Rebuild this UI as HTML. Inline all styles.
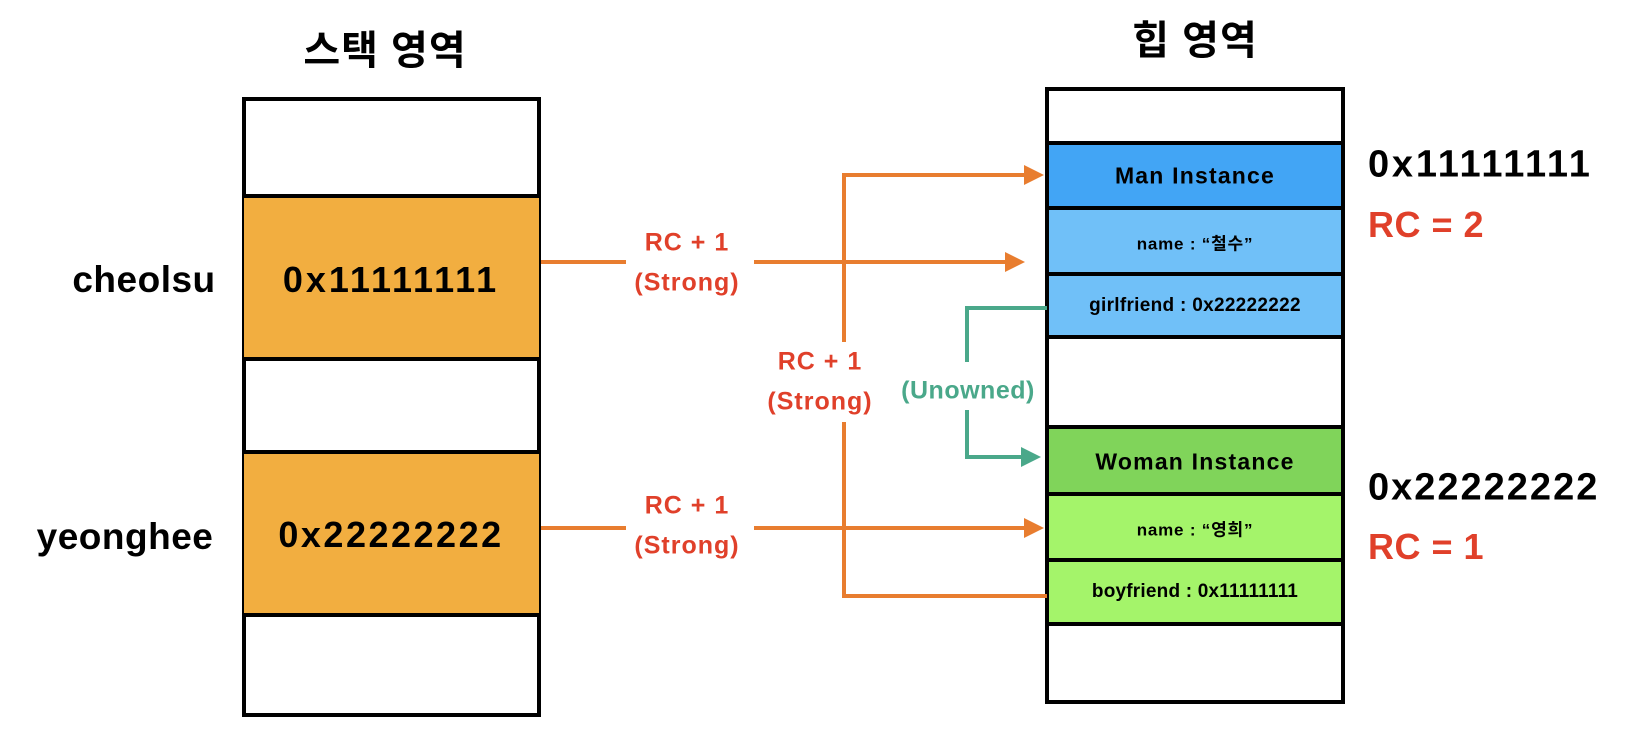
<!DOCTYPE html>
<html><head><meta charset="utf-8"><style>
body{margin:0;width:1632px;height:734px;background:#fff;position:relative;overflow:hidden;font-family:"Liberation Sans","Noto Sans CJK KR",sans-serif;font-weight:bold}
.a{position:absolute;white-space:nowrap;transform:translate(-50%,-50%)}
.l{position:absolute;white-space:nowrap;transform:translateY(-50%)}
.b{position:absolute;box-sizing:border-box;border:4px solid #000}
.r{position:absolute;box-sizing:border-box;border-top:4px solid #000}
.t{position:absolute;left:0;right:0;text-align:center;top:50%;transform:translateY(-50%);color:#000}
.red{color:#e0402a}.grn{color:#4aa88a}
</style></head><body>
<div class="a" style="left:385px;top:47px;font-size:40px;letter-spacing:1px">스택 영역</div>
<div class="a" style="left:1195px;top:37px;font-size:40px;letter-spacing:1px">힙 영역</div>

<!-- stack -->
<div class="b" style="left:242px;top:97px;width:299px;height:620px"></div>
<div class="r" style="left:244px;top:194px;width:295px;height:167px;background:#f2ae40;border-bottom:4px solid #000"></div>
<div class="r" style="left:244px;top:450px;width:295px;height:167px;background:#f2ae40;border-bottom:4px solid #000"></div>
<div class="a" style="left:391px;top:280px;font-size:36px;letter-spacing:3px">0x11111111</div>
<div class="a" style="left:391px;top:535px;font-size:36px;letter-spacing:2.5px">0x22222222</div>
<div class="a" style="left:144px;top:280px;font-size:37px;letter-spacing:0.5px">cheolsu</div>
<div class="a" style="left:125px;top:537px;font-size:37px;letter-spacing:0.5px">yeonghee</div>

<!-- heap -->
<div class="b" style="left:1045px;top:87px;width:300px;height:617px"></div>
<div class="r" style="left:1045px;top:141px;width:300px;height:66px;background:#42a5f5;border-left:4px solid #000;border-right:4px solid #000"><div class="t" style="font-size:23px;letter-spacing:1.2px">Man Instance</div></div>
<div class="r" style="left:1049px;top:206px;width:292px;height:67px;background:#70c0f8"><div class="t" style="font-size:17px;letter-spacing:0.8px">name : “철수”</div></div>
<div class="r" style="left:1049px;top:272px;width:292px;height:67px;background:#70c0f8;border-bottom:4px solid #000"><div class="t" style="font-size:19px;letter-spacing:0.3px">girlfriend : 0x22222222</div></div>
<div class="r" style="left:1049px;top:425px;width:292px;height:69px;background:#80d45a"><div class="t" style="font-size:23px;letter-spacing:1.2px">Woman Instance</div></div>
<div class="r" style="left:1049px;top:492px;width:292px;height:68px;background:#a4f46a"><div class="t" style="font-size:17px;letter-spacing:0.8px">name : “영희”</div></div>
<div class="r" style="left:1049px;top:558px;width:292px;height:68px;background:#a4f46a;border-bottom:4px solid #000"><div class="t" style="font-size:19px;letter-spacing:0.2px">boyfriend : 0x11111111</div></div>

<div class="l" style="left:1368px;top:165px;font-size:38px;letter-spacing:2.8px">0x11111111</div>
<div class="l red" style="left:1368px;top:225px;font-size:36px;letter-spacing:0.5px">RC = 2</div>
<div class="l" style="left:1368px;top:488px;font-size:38px;letter-spacing:2px">0x22222222</div>
<div class="l red" style="left:1368px;top:547px;font-size:36px;letter-spacing:0.5px">RC = 1</div>

<svg style="position:absolute;left:0;top:0" width="1632" height="734">
<g stroke="#e87d2f" stroke-width="4" fill="none">
<line x1="541" y1="262" x2="626" y2="262"/><line x1="754" y1="262" x2="1010" y2="262"/>
<line x1="541" y1="528" x2="626" y2="528"/><line x1="754" y1="528" x2="1030" y2="528"/>
<polyline points="1030,175 844,175 844,342"/>
<polyline points="844,422 844,596 1047,596"/>
</g>
<g fill="#e87d2f">
<polygon points="1025,262 1005,252 1005,272"/>
<polygon points="1044,528 1024,518 1024,538"/>
<polygon points="1044,175 1024,165 1024,185"/>
</g>
<g stroke="#4aa88a" stroke-width="4" fill="none">
<polyline points="1047,308 967,308 967,362"/>
<polyline points="967,410 967,457 1026,457"/>
</g>
<polygon fill="#4aa88a" points="1041,457 1021,447 1021,467"/>
</svg>

<div class="a red" style="left:687px;top:243px;font-size:25px;letter-spacing:1px">RC + 1</div>
<div class="a red" style="left:687px;top:283px;font-size:25px;letter-spacing:1px">(Strong)</div>
<div class="a red" style="left:687px;top:506px;font-size:25px;letter-spacing:1px">RC + 1</div>
<div class="a red" style="left:687px;top:546px;font-size:25px;letter-spacing:1px">(Strong)</div>
<div class="a red" style="left:820px;top:362px;font-size:25px;letter-spacing:1px">RC + 1</div>
<div class="a red" style="left:820px;top:402px;font-size:25px;letter-spacing:1px">(Strong)</div>
<div class="a grn" style="left:968px;top:391px;font-size:25px;letter-spacing:0.5px">(Unowned)</div>
</body></html>
